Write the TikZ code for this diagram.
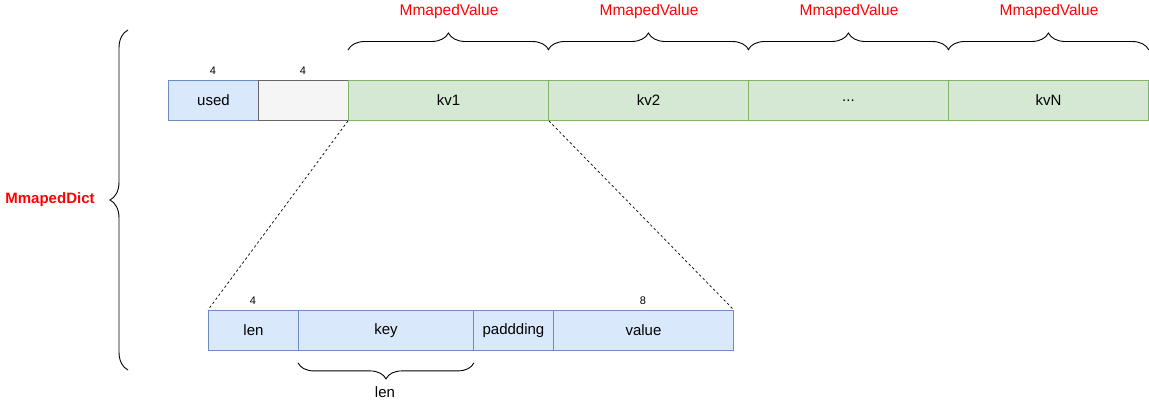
\documentclass[tikz,border=0pt]{standalone}
\usepackage{fontspec}
\setmainfont{Liberation Sans}
\usepackage{xcolor}
\usepackage{tikz}
\usetikzlibrary{decorations.pathreplacing}
\definecolor{bluefill}{HTML}{DAE8FC}
\definecolor{blueline}{HTML}{6C8EBF}
\definecolor{greenfill}{HTML}{D5E8D4}
\definecolor{greenline}{HTML}{82B366}
\definecolor{grayfill}{HTML}{F5F5F5}
\definecolor{grayline}{HTML}{666666}

\begin{document}
\begin{tikzpicture}[x=1pt,y=-1pt,
  cell/.style={draw, line width=0.9pt, minimum height=40pt, inner sep=0pt, anchor=north west, font=\fontsize{15}{18}\selectfont},
  bluecell/.style={cell, fill=bluefill, draw=blueline},
  greencell/.style={cell, fill=greenfill, draw=greenline},
  graycell/.style={cell, fill=grayfill, draw=grayline},
  size/.style={font=\fontsize{11}{13}\selectfont},
  redlabel/.style={text=red, font=\fontsize{15.5}{18}\selectfont},
  brc/.style={decorate, line width=0.9pt, decoration={brace, amplitude=17pt}},
  zoomline/.style={line width=0.7pt, dash pattern=on 2.5pt off 2.5pt}]
\useasboundingbox (0,0) rectangle (1149,402);
\node [bluecell, minimum width=90pt] (used) at (168,80) {used};
\node [graycell, minimum width=90pt] (pad) at (258,80) {};
\node [greencell, minimum width=200pt] (kv1) at (348,80) {kv1};
\node [greencell, minimum width=200pt] (kv2) at (548,80) {kv2};
\node [greencell, minimum width=200pt] (kvdots) at (748,80) {{.}{.}{.}};
\node [greencell, minimum width=200pt] (kvN) at (948,80) {kvN};
\node [size] (usedsize) at (213,71) {4};
\node [size] (padsize) at (303,71) {4};
\draw [brc] ([yshift=30pt]kv1.north west) -- ([yshift=30pt]kv1.north east);
\draw [brc] ([yshift=30pt]kv2.north west) -- ([yshift=30pt]kv2.north east);
\draw [brc] ([yshift=30pt]kvdots.north west) -- ([yshift=30pt]kvdots.north east);
\draw [brc] ([yshift=30pt]kvN.north west) -- ([yshift=30pt]kvN.north east);
\node [redlabel] (mv1) at (449,11) {MmapedValue};
\node [redlabel] (mv2) at (649,11) {MmapedValue};
\node [redlabel] (mv3) at (849,11) {MmapedValue};
\node [redlabel] (mv4) at (1049,11) {MmapedValue};
\draw [brc, decoration={amplitude=18pt}] (128,370) -- (128,30);
\node [redlabel, font=\fontsize{15}{18}\selectfont\bfseries] (dict) at (50,200) {MmapedDict};
\node [bluecell, minimum width=90pt] (len) at (208,310) {len};
\node [bluecell, minimum width=175pt] (key) at (298,310) {key};
\node [bluecell, minimum width=80pt] (padding) at (473,310) {paddding};
\node [bluecell, minimum width=180pt] (value) at (553,310) {value};
\node [size] (lensize) at (253,301) {4};
\node [size] (valuesize) at (643,301) {8};
\draw [brc, decoration={amplitude=16pt}] ([yshift=-12pt]key.south east) -- ([yshift=-12pt]key.south west);
\node [font=\fontsize{15}{18}\selectfont] (keylen) at (385,392) {len};
\draw [zoomline] (kv1.south west) -- (len.north west);
\draw [zoomline] (kv1.south east) -- (value.north east);
\end{tikzpicture}
\end{document}
